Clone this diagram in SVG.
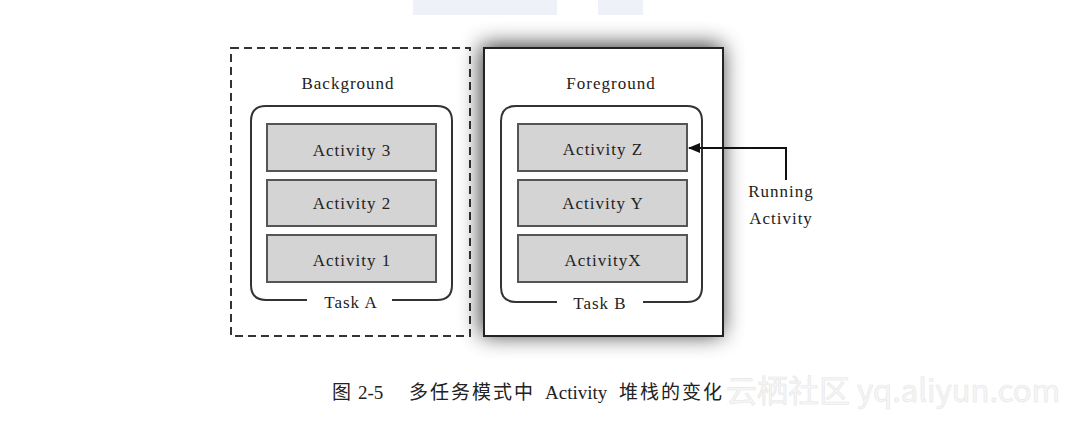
<svg xmlns="http://www.w3.org/2000/svg" width="1070" height="421" viewBox="0 0 1070 421">
<defs>
<filter id="sh" x="-25%" y="-25%" width="150%" height="150%">
<feGaussianBlur in="SourceAlpha" stdDeviation="11"/>
<feOffset dx="-2" dy="-2"/>
<feComponentTransfer><feFuncA type="linear" slope="0.8"/></feComponentTransfer>
<feMerge><feMergeNode/><feMergeNode in="SourceGraphic"/></feMerge>
</filter>
<marker id="ah" markerWidth="12" markerHeight="10" refX="11" refY="5" orient="auto" markerUnits="userSpaceOnUse">
<path d="M0,0 L12,5 L0,10 Z" fill="#111"/>
</marker>
</defs>
<style>
.lbl{font-family:"Liberation Serif",serif;font-size:17px;letter-spacing:1px;fill:#222;text-anchor:middle}
.act{fill:#d4d4d4;stroke:#555;stroke-width:2}
.task{fill:none;stroke:#333;stroke-width:2}
.cap{font-family:"Liberation Serif","Noto Sans CJK SC",serif;font-size:19px;fill:#222}
.cn{font-family:"Noto Sans CJK SC",sans-serif;font-size:19px;letter-spacing:2px}
</style>
<rect width="1070" height="421" fill="#fff"/>
<rect x="413" y="0" width="144" height="15" fill="#eef1f8"/>
<rect x="598" y="0" width="45" height="15" fill="#eef1f8"/>

<g id="background">
<rect x="231" y="48" width="239" height="288" fill="#fff" stroke="#333" stroke-width="2" stroke-dasharray="8,5"/>
<text class="lbl" x="348" y="89">Background</text>
</g>
<g id="foreground">
<rect x="484" y="48" width="239" height="288" fill="#fff" stroke="#222" stroke-width="2" filter="url(#sh)"/>
<text class="lbl" x="611" y="89">Foreground</text>
</g>

<g id="taskA">
<path class="task" d="M307,300 L266,300 Q251,300 251,285 L251,121 Q251,106 266,106 L437,106 Q452,106 452,121 L452,285 Q452,300 437,300 L392,300"/>
<text class="lbl" x="351" y="308">Task A</text>
</g>
<g id="act3"><rect class="act" x="267" y="124" width="169" height="47"/><text class="lbl" x="352" y="156">Activity 3</text></g>
<g id="act2"><rect class="act" x="267" y="180" width="169" height="46"/><text class="lbl" x="352" y="209">Activity 2</text></g>
<g id="act1"><rect class="act" x="267" y="235" width="169" height="47"/><text class="lbl" x="352" y="266">Activity 1</text></g>

<g id="taskB">
<path class="task" d="M557,302 L516,302 Q501,302 501,287 L501,121 Q501,106 516,106 L687,106 Q702,106 702,121 L702,287 Q702,302 687,302 L643,302"/>
<text class="lbl" x="600" y="309">Task B</text>
</g>
<g id="actZ"><rect class="act" x="518" y="124" width="169" height="47"/><text class="lbl" x="603" y="155">Activity Z</text></g>
<g id="actY"><rect class="act" x="518" y="180" width="169" height="46"/><text class="lbl" x="603" y="209">Activity Y</text></g>
<g id="actX"><rect class="act" x="518" y="235" width="169" height="47"/><text class="lbl" x="603" y="266">ActivityX</text></g>

<g id="running">
<text class="lbl" x="781" y="197">Running</text>
<text class="lbl" x="781" y="224">Activity</text>
</g>

<g id="connectors">
<path d="M786,180 L786,148 L689,148" fill="none" stroke="#111" stroke-width="2" marker-end="url(#ah)"/>
</g>

<text class="cap" y="399"><tspan class="cn" x="332">图</tspan><tspan x="358">2-5</tspan><tspan class="cn" x="409">多任务模式中</tspan><tspan x="545">Activity</tspan><tspan class="cn" x="619">堆栈的变化</tspan></text>
<text x="726" y="402" font-family="'Noto Sans CJK SC','Liberation Sans',sans-serif" font-size="31" fill="#f6f6f6" stroke="#e6e6e6" stroke-width="0.6">云栖社区 yq.aliyun.com</text>
</svg>
